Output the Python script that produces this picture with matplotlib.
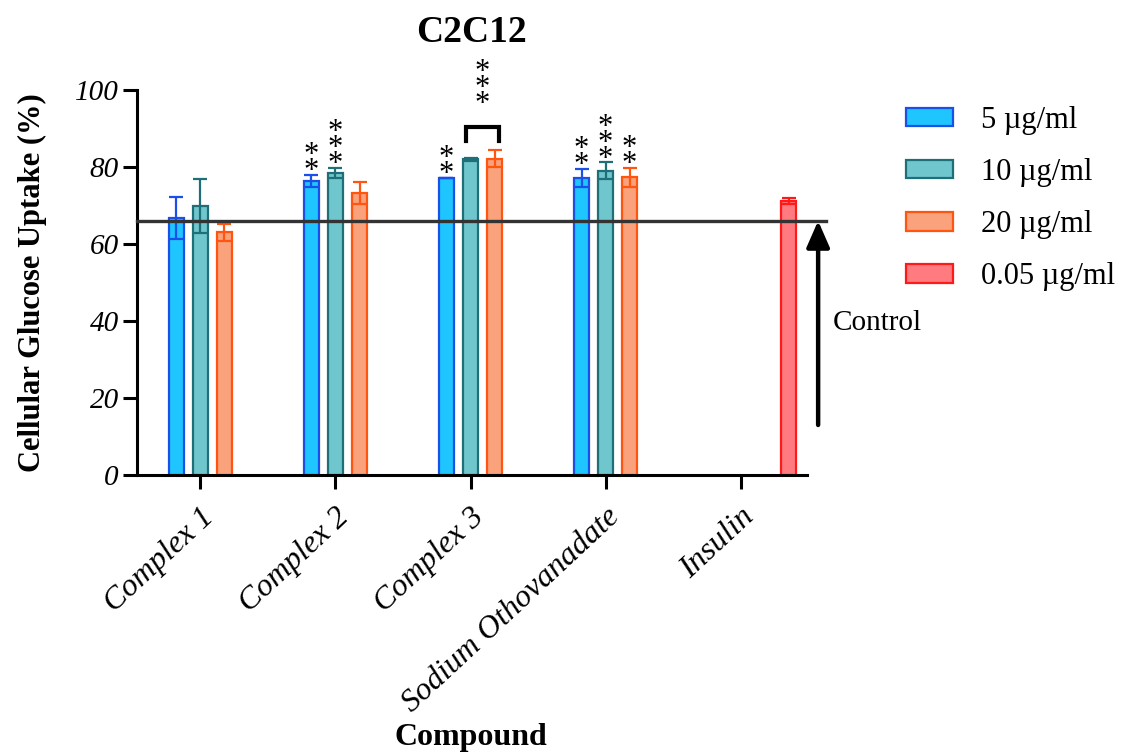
import matplotlib
matplotlib.use("Agg")
import matplotlib.pyplot as plt
from matplotlib.font_manager import FontProperties
import numpy as np

SERIF = "Liberation Serif"
plt.rcParams["font.family"] = [SERIF, "DejaVu Serif"]

# --- data ---
compounds = ["Complex 1", "Complex 2", "Complex 3", "Sodium Othovanadate", "Insulin"]
doses = ["5 µg/ml", "10 µg/ml", "20 µg/ml"]
insulin_label = "0.05 µg/ml"

uptake_5 = [66.8, 76.5, 77.3, 77.2]
uptake_10 = [70.0, 78.6, 82.1, 79.1]
uptake_20 = [63.1, 73.4, 82.3, 77.4]
err_5 = [5.4, 1.5, 0.0, 2.3]
err_10 = [7.0, 1.3, 0.4, 2.2]
err_20 = [2.2, 2.8, 2.2, 2.5]
insulin_uptake = [71.3]
insulin_err = [0.8]
control_level = 66.1

# significance marks: (compound index, dose index, number of stars)
sig_compound = [1, 1, 2, 3, 3, 3]
sig_dose = [0, 1, 0, 0, 1, 2]
sig_stars = [2, 3, 2, 2, 3, 2]
bracket_stars = 3  # Complex 3, 10 vs 20

faces = ["#1ec5ff", "#6fc6cc", "#f9a27c"]
edges = ["#1a4fe8", "#1e6f78", "#ff5511"]
ins_face, ins_edge = "#ff7b80", "#ff1a1a"

W, OFF = 0.11, 0.178
STAR_STEP = 11.5  # points between stacked stars


def stack_stars(ax, xpos, ypos, n, base):
    # one '*' per line, baseline offset in points from (xpos, ypos)
    for i in range(n):
        ax.annotate("*", (xpos, ypos), xytext=(0, base + i * STAR_STEP),
                    textcoords="offset points", ha="center", va="baseline",
                    fontsize=22, family=SERIF, annotation_clip=False)


fig = plt.figure(figsize=(11.46, 7.52), dpi=100)
ax = fig.add_axes([0.1195, 0.3684, 0.5845, 0.5113])

x = np.arange(4)
series = [(uptake_5, err_5), (uptake_10, err_10), (uptake_20, err_20)]
handles = []
for k, (vals, errs) in enumerate(series):
    xs = x + (k - 1) * OFF
    b = ax.bar(xs, vals, W, color=faces[k], edgecolor=edges[k], linewidth=1.6,
               label=doses[k], zorder=2)
    ax.errorbar(xs, vals, yerr=errs, fmt="none", ecolor=edges[k],
                elinewidth=1.6, capsize=5, capthick=1.6, zorder=3)
    handles.append(b)

xi = np.array([4 + 2 * OFF])
b = ax.bar(xi, insulin_uptake, W, color=ins_face, edgecolor=ins_edge,
           linewidth=1.6, label=insulin_label, zorder=2)
ax.errorbar(xi, insulin_uptake, yerr=insulin_err, fmt="none", ecolor=ins_edge,
            elinewidth=1.6, capsize=5, capthick=1.6, zorder=3)
handles.append(b)

# stars over bars
for g, d, n in zip(sig_compound, sig_dose, sig_stars):
    top = series[d][0][g] + series[d][1][g]
    stack_stars(ax, g + (d - 1) * OFF, top, n, -3.0)

# bracket Complex 3: 10 vs 20
bx0, bx1 = 2 - 0.036, 2 + OFF + 0.036
ax.plot([bx0, bx0, bx1, bx1], [86.9, 90.6, 90.6, 86.9], color="black",
        lw=3, clip_on=False, solid_joinstyle="miter", zorder=4)
stack_stars(ax, (bx0 + bx1) / 2, 90.6, bracket_stars, 10.5)

# control line + arrow
ax.plot([-0.47, 4.63], [control_level, control_level], color="#333333",
        lw=2.4, clip_on=False, zorder=4)
ax.annotate("", xy=(4.574, control_level), xytext=(4.574, 13.0),
            arrowprops=dict(arrowstyle="-|>,head_width=0.35,head_length=0.8",
                            color="black", lw=3.2, mutation_scale=20,
                            shrinkA=0, shrinkB=0),
            annotation_clip=False)
ax.text(4.68, 39.5, "Control", fontsize=21, va="center", ha="left",
        family=SERIF, clip_on=False)

ax.set_xlim(-0.47, 4.49)
ax.set_ylim(0, 100)
ax.set_yticks([0, 20, 40, 60, 80, 100])
ax.set_yticklabels(["0", "20", "40", "60", "80", "100"], fontsize=21,
                   style="italic", family=SERIF)
ax.set_xticks(np.arange(5))
ax.set_xticklabels(compounds, fontsize=23, style="italic", rotation=43,
                   ha="right", rotation_mode="anchor", family=SERIF)
for sp in ["top", "right"]:
    ax.spines[sp].set_visible(False)
for sp in ["left", "bottom"]:
    ax.spines[sp].set_linewidth(2.2)
ax.tick_params(width=2.2, length=10, direction="out")
ax.tick_params(axis="x", pad=10)
ax.tick_params(axis="y", pad=3)

ax.set_ylabel("Cellular Glucose Uptake (%)", fontsize=22, fontweight="bold",
              family=SERIF)
ax.yaxis.set_label_coords(-0.135, 0.5)
fig.text(471 / 1146, 1 - 737 / 752, "Compound", fontsize=23, family=SERIF,
         fontweight="bold", ha="center", va="center")
ax.set_title("C2C12", fontsize=27, fontweight="bold", pad=35, family=SERIF)

fig.legend(handles=handles, loc="upper left",
           bbox_to_anchor=(906 / 1146, 1 - 106 / 752), frameon=False,
           prop=FontProperties(family=SERIF, size=22),
           handlelength=1.53, handleheight=0.55,
           handletextpad=0.92, labelspacing=0.755, borderpad=0, borderaxespad=0)

fig.savefig("out.png", dpi=100)
